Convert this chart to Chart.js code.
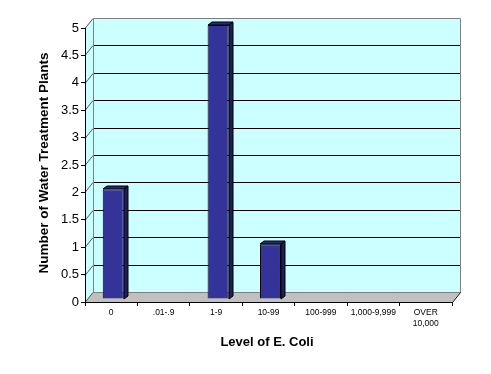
<!DOCTYPE html>
<html>
<head>
<meta charset="utf-8">
<script src="https://cdn.jsdelivr.net/npm/chart.js@4/dist/chart.umd.min.js"></script>
<style>
  html, body { margin: 0; padding: 0; background: #fff; }
</style>
</head>
<body>
<canvas id="grafico" width="491" height="374"></canvas>
<script>
var categorias = ['0', '.01-.9', '1-9', '10-99', '100-999', '1,000-9,999', ['OVER', '10,000']]
var plantas = [2, 0, 5, 1, 0, 0, 0]
var etiquetasY = ['0', '0.5', '1', '1.5', '2', '2.5', '3', '3.5', '4', '4.5', '5']
var tituloX = 'Level of E. Coli'
var tituloY = 'Number of Water Treatment Plants'

var fuente = 'Arial, "Liberation Sans", sans-serif'
// desplazamiento de la pared del fondo (efecto 3d tipo excel)
var DX = 8, DY = -10
// profundidad de las barras
var BX = 4, BY = -3

var fondo3d = {
  id: 'fondo3d',
  beforeDraw: function (chart) {
    var ctx = chart.ctx
    var a = chart.chartArea
    var y = chart.scales.y
    var l = a.left, r = a.right, t = a.top, b = a.bottom
    ctx.save()
    // pared lateral
    ctx.fillStyle = '#CCFFFF'
    ctx.beginPath()
    ctx.moveTo(l, t); ctx.lineTo(l + DX, t + DY); ctx.lineTo(l + DX, b + DY); ctx.lineTo(l, b)
    ctx.closePath(); ctx.fill()
    // pared del fondo
    ctx.fillRect(l + DX, t + DY, r - l, b - t)
    // piso
    ctx.fillStyle = '#C0C0C0'
    ctx.beginPath()
    ctx.moveTo(l, b); ctx.lineTo(r, b); ctx.lineTo(r + DX, b + DY); ctx.lineTo(l + DX, b + DY)
    ctx.closePath(); ctx.fill()

    // lineas de division
    ctx.lineWidth = 1
    etiquetasY.forEach(function (e, i) {
      var py = Math.round(y.getPixelForValue(i * 0.5)) + 0.5
      ctx.strokeStyle = '#000'
      if (i > 0 && i < etiquetasY.length - 1) {
        ctx.beginPath()
        ctx.moveTo(l + DX, py + DY); ctx.lineTo(r + DX, py + DY)
        ctx.stroke()
      }
      ctx.strokeStyle = '#555'
      ctx.beginPath()
      ctx.moveTo(l, py); ctx.lineTo(l + DX, py + DY)
      ctx.stroke()
    })

    // bordes
    ctx.strokeStyle = '#808080'
    ctx.beginPath()
    ctx.moveTo(l + DX + 0.5, b + DY); ctx.lineTo(l + DX + 0.5, t + DY + 0.5)
    ctx.lineTo(r + DX + 0.5, t + DY + 0.5); ctx.lineTo(r + DX + 0.5, b + DY + 0.5)
    ctx.lineTo(l + DX, b + DY + 0.5)
    ctx.stroke()
    ctx.strokeStyle = '#000'
    ctx.beginPath()
    ctx.moveTo(r + 0.5, b + 0.5); ctx.lineTo(r + DX + 0.5, b + DY + 0.5)
    ctx.stroke()
    ctx.restore()
  },
  beforeDatasetsDraw: function (chart) {
    chart.ctx.save()
    chart.ctx.translate(2, -3)
  },
  afterDatasetsDraw: function (chart) {
    var ctx = chart.ctx
    var meta = chart.getDatasetMeta(0)
    meta.data.forEach(function (bar, i) {
      if (!plantas[i]) return
      var x1 = Math.round(bar.x - bar.width / 2)
      var x2 = Math.round(bar.x + bar.width / 2)
      var top = Math.round(bar.y), base = Math.round(bar.base)
      ctx.lineWidth = 1
      ctx.strokeStyle = '#000'
      // cara derecha
      ctx.fillStyle = '#1E1E5A'
      ctx.beginPath()
      ctx.moveTo(x2, top); ctx.lineTo(x2 + BX, top + BY); ctx.lineTo(x2 + BX, base + BY); ctx.lineTo(x2, base)
      ctx.closePath(); ctx.fill(); ctx.stroke()
      // cara de arriba
      ctx.fillStyle = '#28287A'
      ctx.beginPath()
      ctx.moveTo(x1, top); ctx.lineTo(x1 + BX, top + BY); ctx.lineTo(x2 + BX, top + BY); ctx.lineTo(x2, top)
      ctx.closePath(); ctx.fill(); ctx.stroke()
    })
    ctx.restore()
  },
  afterDraw: function (chart) {
    var ctx = chart.ctx
    ctx.save()
    ctx.fillStyle = '#000'
    ctx.font = 'bold 13px ' + fuente
    ctx.textAlign = 'center'
    ctx.textBaseline = 'middle'
    ctx.fillText(tituloX, 267, 342)
    ctx.font = 'bold 13.5px ' + fuente
    ctx.translate(44, 163)
    ctx.rotate(-Math.PI / 2)
    ctx.fillText(tituloY, 0, 0)
    ctx.restore()
  }
}

new Chart(document.getElementById('grafico'), {
  type: 'bar',
  data: {
    labels: categorias,
    datasets: [{
      data: plantas,
      backgroundColor: '#333399',
      borderColor: '#000',
      borderWidth: 1,
      categoryPercentage: 1,
      barPercentage: 0.4
    }]
  },
  options: {
    responsive: false,
    animation: false,
    devicePixelRatio: 1,
    layout: { padding: { top: 28, right: 39, left: 0, bottom: 0 } },
    plugins: { legend: { display: false }, tooltip: { enabled: false }, title: { display: false } },
    scales: {
      x: {
        grid: { drawOnChartArea: false, tickLength: 4, color: '#000', offset: true },
        border: { color: '#000' },
        ticks: { color: '#000', font: { family: fuente, size: 8.5 }, padding: 2, maxRotation: 0, autoSkip: false },
        afterFit: function (s) { s.height = 72 }
      },
      y: {
        min: 0,
        max: 5,
        grid: { drawOnChartArea: false, tickLength: 4, color: '#000' },
        border: { color: '#000' },
        ticks: {
          stepSize: 0.5,
          color: '#000',
          font: { family: fuente, size: 13 },
          padding: 2,
          callback: function (v, i) { return etiquetasY[i] }
        },
        afterFit: function (s) { s.width = 85 }
      }
    }
  },
  plugins: [fondo3d]
})
</script>
</body>
</html>
